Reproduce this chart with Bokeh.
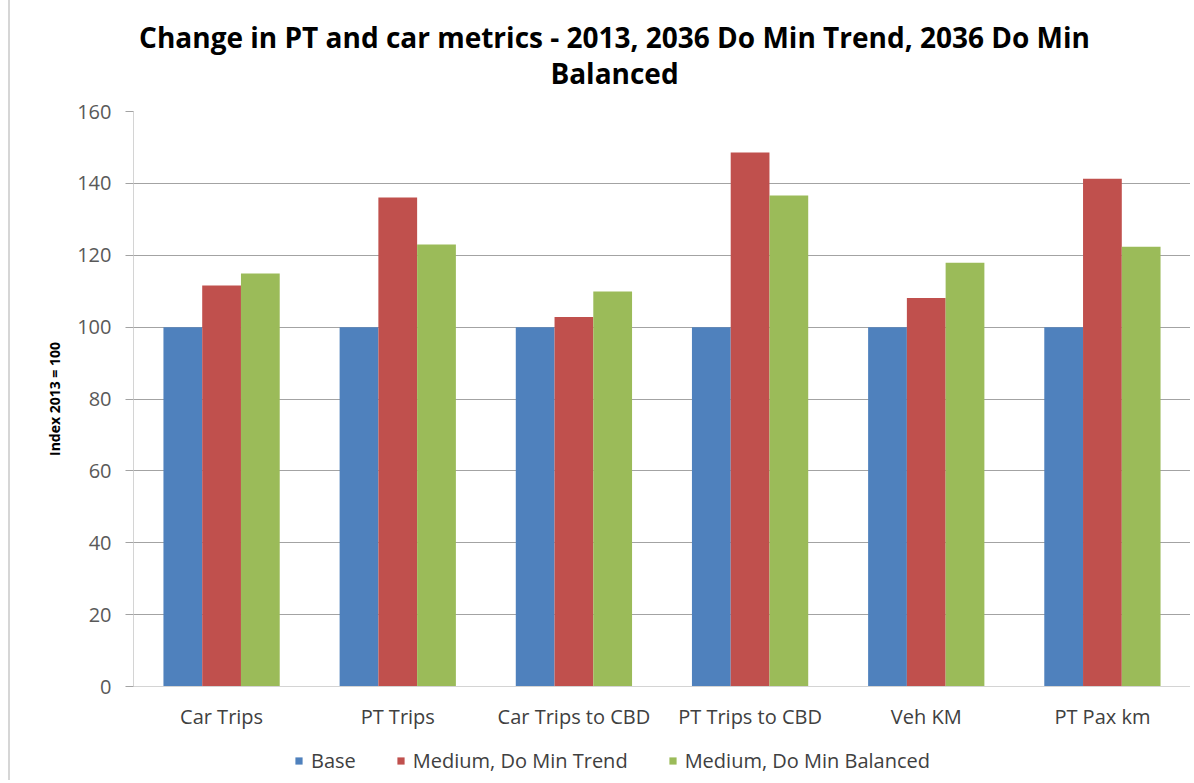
from bokeh.plotting import figure
from bokeh.layouts import column
from bokeh.models import FactorRange, Range1d, ColumnDataSource, Legend, LegendItem, FixedTicker
from bokeh.core.properties import value
from bokeh.transform import dodge
from bokeh.embed import file_html
from bokeh.resources import INLINE

categories = ["Car Trips", "PT Trips", "Car Trips to CBD", "PT Trips to CBD", "Veh KM", "PT Pax km"]
base = [100, 100, 100, 100, 100, 100]
trend = [111.6, 136.1, 102.8, 148.6, 108.1, 141.3]
balanced = [114.9, 123.0, 109.9, 136.6, 117.9, 122.4]
series_names = ["Base", "Medium, Do Min Trend", "Medium, Do Min Balanced"]
colors = ["#4F81BD", "#C0504D", "#9BBB59"]
y_ticks = [0, 20, 40, 60, 80, 100, 120, 140, 160]
title_lines = ["Change in PT and car metrics - 2013, 2036 Do Min Trend, 2036 Do Min", "Balanced"]

FONT = "Open Sans"
W = 1190
LEFT = 133

# ---- title strip (its frame is aligned with the chart frame by the column layout) ----
TH = 95
tf = figure(width=W, height=TH, x_range=Range1d(LEFT, W), y_range=Range1d(TH, 0),
            output_backend="svg", toolbar_location=None, x_axis_location=None, y_axis_location=None,
            min_border_left=0, min_border_right=0, min_border_top=0, min_border_bottom=0)
tf.grid.grid_line_color = None
tf.outline_line_color = None
tf.text(x=[614, 614], y=[36, 72], text=title_lines, text_align="center", text_baseline="middle",
        text_font=value(FONT), text_font_size="28px", text_font_style="bold", text_color="#000000")

# ---- main chart ----
source = ColumnDataSource(data=dict(cat=categories, base=base, trend=trend, balanced=balanced))

p = figure(width=W, height=645, x_range=FactorRange(*categories), y_range=Range1d(0, 160),
           output_backend="svg", toolbar_location=None, title=None,
           min_border_left=LEFT, min_border_right=0, min_border_top=16, min_border_bottom=54)

bw = 0.22
renderers = []
for key, off, col in zip(["base", "trend", "balanced"], [-bw, 0, bw], colors):
    r = p.vbar(x=dodge("cat", off, range=p.x_range), top=key, width=bw, source=source,
               fill_color=col, line_color=None)
    renderers.append(r)

p.outline_line_color = None
p.xgrid.grid_line_color = None
p.ygrid.grid_line_color = "#a3a3a3"
p.ygrid.grid_line_width = 1
p.yaxis.ticker = FixedTicker(ticks=y_ticks)
p.yaxis.axis_line_color = "#d4d4d4"
p.yaxis.major_tick_line_color = "#a3a3a3"
p.yaxis.major_tick_out = 8
p.yaxis.major_tick_in = 0
p.yaxis.minor_tick_line_color = None
p.yaxis.major_label_text_font = FONT
p.yaxis.major_label_text_font_size = "20px"
p.yaxis.major_label_text_color = "#595959"
p.yaxis.major_label_standoff = 14
p.yaxis.axis_label = "Index 2013 = 100"
p.yaxis.axis_label_text_font = FONT
p.yaxis.axis_label_text_font_size = "14px"
p.yaxis.axis_label_text_font_style = "bold"
p.yaxis.axis_label_text_color = "#000000"
p.yaxis.axis_label_standoff = 10

p.xaxis.axis_line_color = "#d4d4d4"
p.xaxis.major_tick_line_color = None
p.xaxis.minor_tick_line_color = None
p.xaxis.major_label_text_font = FONT
p.xaxis.major_label_text_font_size = "20px"
p.xaxis.major_label_text_color = "#404040"
p.xaxis.major_label_standoff = 10

# ---- legend strip ----
LH = 40
lf = figure(width=W, height=LH, x_range=Range1d(0, 1), y_range=Range1d(0, 1),
            output_backend="svg", toolbar_location=None, x_axis_location=None, y_axis_location=None,
            min_border_left=0, min_border_right=0, min_border_top=0, min_border_bottom=0)
lf.grid.grid_line_color = None
lf.outline_line_color = None
# proxy renderers (placed outside the visible range) that only supply the legend swatches
lrs = [lf.vbar(x=[-10], top=[-10], bottom=[-11], width=0.1, fill_color=c, line_color=None)
       for c in colors]
legend = Legend(items=[LegendItem(label=n, renderers=[r]) for n, r in zip(series_names, lrs)],
                orientation="horizontal", location=(294 - LEFT, 6),
                label_text_font=FONT, label_text_font_size="20px", label_text_color="#404040",
                glyph_width=9, glyph_height=9, label_standoff=8, spacing=40,
                border_line_color=None, background_fill_alpha=0, padding=0, margin=0)
lf.add_layout(legend)

# transparent borders so the thin chart-edge line of the page background shows through
for f in (tf, p, lf):
    f.border_fill_alpha = 0

layout = column(tf, p, lf, spacing=0,
                styles={"background": "linear-gradient(to right, #ffffff 8px, #d6d6d6 8px, "
                                      "#d6d6d6 10px, #ffffff 10px)"})
open("out.html", "w").write(file_html(layout, INLINE))
